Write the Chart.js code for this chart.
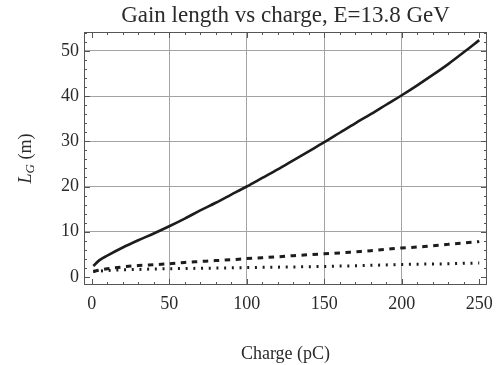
<!DOCTYPE html>
<html>
<head>
<meta charset="utf-8">
<script src="https://cdn.jsdelivr.net/npm/chart.js@4"></script>
<style>
    html, body { margin: 0; padding: 0; background: #fff; }
    canvas { display: block; }
</style>
</head>
<body>
<canvas id="gainChart" width="501" height="365"></canvas>
<script>
const charge = [1, 5, 10, 20, 30, 40, 50, 60, 70, 80, 90, 100, 110, 120, 130, 140, 150, 160, 170, 180, 190, 200, 210, 220, 230, 240, 250];

// L_G (m), solid / dashed / dotted curves
const gainSolid  = [2.4, 3.7, 4.7, 6.5, 8.1, 9.6, 11.2, 12.9, 14.7, 16.4, 18.2, 20.0, 21.9, 23.8, 25.8, 27.8, 29.8, 31.9, 34.0, 36.0, 38.1, 40.2, 42.4, 44.7, 47.1, 49.7, 52.4];
const gainDashed = [1.2, 1.5, 1.8, 2.2, 2.5, 2.7, 2.9, 3.2, 3.4, 3.6, 3.8, 4.05, 4.25, 4.45, 4.7, 4.9, 5.1, 5.3, 5.55, 5.8, 6.1, 6.4, 6.6, 6.9, 7.2, 7.5, 7.8];
const gainDotted = [1.2, 1.3, 1.4, 1.55, 1.65, 1.75, 1.8, 1.85, 1.9, 1.95, 2.0, 2.05, 2.1, 2.15, 2.2, 2.25, 2.3, 2.4, 2.45, 2.55, 2.65, 2.75, 2.8, 2.85, 2.9, 3.0, 3.05];

const xTicks = [0, 50, 100, 150, 200, 250];
const yTicks = [0, 10, 20, 30, 40, 50];

const FONT = "'Liberation Serif', 'DejaVu Serif', serif";
const TEXT = '#2a2a2a';

const toPoints = ys => ys.map((v, i) => ({ x: charge[i], y: v }));

// frame, inward ticks and the y title with its subscript
const frameTicks = {
    id: 'frameTicks',
    afterDatasetsDraw(chart) {
        const { ctx, chartArea: a, scales: { x, y } } = chart;
        ctx.save();
        ctx.strokeStyle = '#555';
        ctx.lineWidth = 1;
        ctx.strokeRect(a.left + 0.5, a.top + 0.5, a.right - a.left - 1, a.bottom - a.top - 1);

        ctx.beginPath();
        for (let v = 0; v <= 250; v += 10) {
            const px = Math.round(x.getPixelForValue(v)) + 0.5;
            const len = v % 50 === 0 ? 6 : 3;
            ctx.moveTo(px, a.bottom); ctx.lineTo(px, a.bottom - len);
            ctx.moveTo(px, a.top); ctx.lineTo(px, a.top + len);
        }
        for (let v = 0; v <= 54; v += 2) {
            const py = Math.round(y.getPixelForValue(v)) + 0.5;
            const len = v % 10 === 0 ? 6 : 3;
            ctx.moveTo(a.left, py); ctx.lineTo(a.left + len, py);
            ctx.moveTo(a.right, py); ctx.lineTo(a.right - len, py);
        }
        ctx.stroke();

        ctx.fillStyle = TEXT;
        ctx.textBaseline = 'alphabetic';
        const bigItalic = 'italic 18px ' + FONT;
        const subItalic = 'italic 13px ' + FONT;
        const normal = '18px ' + FONT;
        ctx.font = bigItalic; const wL = ctx.measureText('L').width;
        ctx.font = subItalic; const wG = ctx.measureText('G').width;
        ctx.font = normal; const wM = ctx.measureText(' (m)').width;
        const total = wL + wG + wM;
        ctx.translate(31, (a.top + a.bottom) / 2);
        ctx.rotate(-Math.PI / 2);
        let cx = -total / 2;
        ctx.font = bigItalic; ctx.fillText('L', cx, 0); cx += wL;
        ctx.font = subItalic; ctx.fillText('G', cx, 3); cx += wG;
        ctx.font = normal; ctx.fillText(' (m)', cx, 0);
        ctx.restore();
    }
};

new Chart(document.getElementById('gainChart'), {
    type: 'line',
    data: {
        datasets: [
            {
                data: toPoints(gainSolid),
                borderColor: '#1c1c1c',
                borderWidth: 2.6
            },
            {
                data: toPoints(gainDashed),
                borderColor: '#1c1c1c',
                borderWidth: 3,
                borderDash: [5.5, 5.5]
            },
            {
                data: toPoints(gainDotted),
                borderColor: '#1c1c1c',
                borderWidth: 3,
                borderDash: [2, 5.7]
            }
        ]
    },
    options: {
        responsive: false,
        animation: false,
        devicePixelRatio: 1,
        elements: {
            point: { radius: 0 },
            line: { tension: 0.2, cubicInterpolationMode: 'monotone', borderCapStyle: 'butt' }
        },
        layout: { padding: { right: 8 } },
        plugins: {
            legend: { display: false },
            tooltip: { enabled: false },
            title: {
                display: true,
                fullSize: false,
                text: 'Gain length vs charge, E=13.8 GeV',
                color: TEXT,
                font: { family: FONT, size: 23, weight: 'normal' },
                padding: { top: 2, bottom: 2.4 }
            }
        },
        scales: {
            x: {
                type: 'linear',
                min: -5,
                max: 255,
                afterBuildTicks: s => { s.ticks = xTicks.map(v => ({ value: v })); },
                afterFit: s => { s.height = 80; },
                grid: {
                    drawTicks: false,
                    color: c => (c.tick && (c.tick.value === 0 || c.tick.value === 250)) ? 'rgba(0,0,0,0)' : '#a3a3a3'
                },
                border: { display: false },
                ticks: {
                    color: TEXT,
                    padding: 8,
                    maxRotation: 0,
                    font: { family: FONT, size: 18 }
                },
                title: {
                    display: true,
                    text: 'Charge (pC)',
                    color: TEXT,
                    font: { family: FONT, size: 18 },
                    padding: { top: 0, bottom: 0 }
                }
            },
            y: {
                type: 'linear',
                min: -1.8,
                max: 54.2,
                afterBuildTicks: s => { s.ticks = yTicks.map(v => ({ value: v })); },
                afterFit: s => { s.width = 84; },
                grid: {
                    drawTicks: false,
                    color: c => (c.tick && c.tick.value === 0) ? 'rgba(0,0,0,0)' : '#a3a3a3'
                },
                border: { display: false },
                ticks: {
                    color: TEXT,
                    padding: 5,
                    font: { family: FONT, size: 18 }
                }
            }
        }
    },
    plugins: [frameTicks]
});
</script>
</body>
</html>
